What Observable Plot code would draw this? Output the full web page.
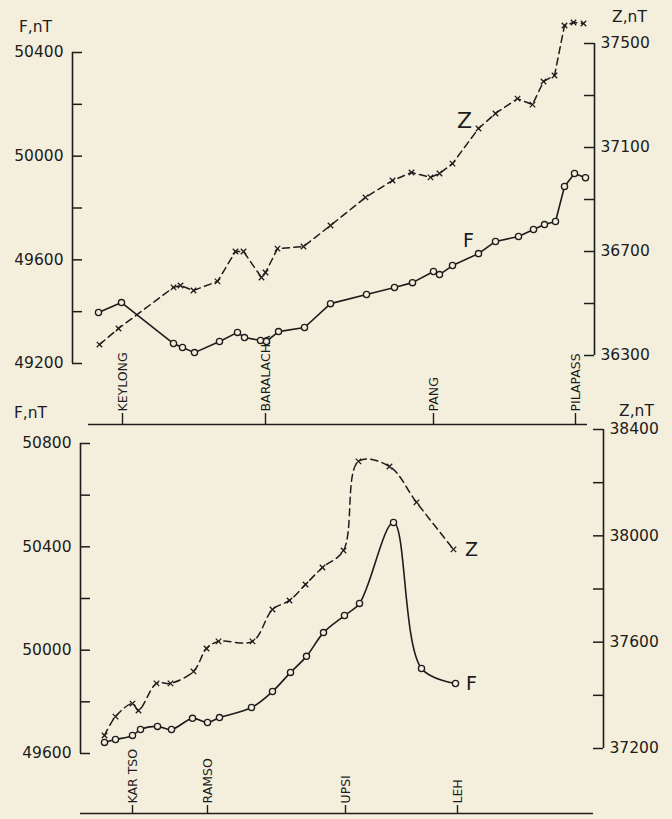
<!DOCTYPE html>
<html><head><meta charset="utf-8">
<script src="https://cdn.jsdelivr.net/npm/d3@7"></script>
<script src="https://cdn.jsdelivr.net/npm/@observablehq/plot@0.6"></script>
<style>
html,body{margin:0;padding:0;background:#f4efdc;}
#wrap{position:relative;width:672px;height:819px;overflow:hidden;}
#wrap svg{position:absolute;left:0;top:0;}
</style></head><body><div id="wrap"></div>
<script>
// ---------- TOP TRAVERSE (Keylong – Pilapass) ----------
const topStations = ["KEYLONG", "BARALACHA", "PANG", "PILAPASS"];
const topStationKm = [50, 193, 361, 503];
const topFKm = [26,49,101,110,122,147,165,172,188,194,206,232,258,294,322,340,361,367,380,406,423,446,461,472,483,492,502,513];
const topF   = [49397,49435,49277,49262,49242,49285,49320,49300,49289,49285,49323,49339,49431,49466,49493,49512,49555,49543,49578,49624,49671,49690,49717,49736,49748,49883,49933,49917];
const topZKm = [27,46,101,108,121,145,163,171,189,193,205,231,258,293,320,339,358,367,380,406,423,445,460,471,482,492,501,511];
const topZ   = [36342,36404,36562,36569,36550,36585,36700,36700,36600,36619,36711,36719,36800,36908,36973,37004,36985,37000,37038,37173,37231,37288,37265,37354,37377,37569,37581,37577];
const topFTicks = [49200,49400,49600,49800,50000,50200,50400];
const topZTicks = [36300,36500,36700,36900,37100,37300,37500];

// ---------- BOTTOM TRAVERSE (Kar Tso – Leh) ----------
const botStations = ["KAR TSO", "RAMSO", "UPSI", "LEH"];
const botStationKm = [52, 127, 265, 377];
const botFKm = [24,35,52,60,77,91,112,127,139,171,192,210,226,243,264,279,313,341,375];
const botF   = [49643,49654,49670,49693,49705,49693,49736,49720,49739,49778,49840,49914,49976,50068,50134,50181,50494,49929,49871];
const botZKm = [24,35,52,58,76,90,113,126,138,172,192,209,225,242,263,278,309,336,373];
const botZ   = [37249,37320,37369,37343,37445,37445,37490,37576,37603,37603,37723,37757,37817,37881,37945,38280,38261,38126,37949];
const botFTicks = [49600,49800,50000,50200,50400,50600,50800];
const botZTicks = [37200,37400,37600,37800,38000,38200,38400];

const W = 672, H = 819;
const ink = "#1c1c1c", paper = "#f4efdc";
const font = "'DejaVu Sans', sans-serif";

function panel(cfg) {
  const s = (cfg.yA - cfg.yB) / (cfg.fB - cfg.fA);
  const yDomain = [cfg.fA - (cfg.base - cfg.yA) / s, cfg.fA + (cfg.yA - cfg.top) / s];
  const zPix = z => cfg.zy0 - (z - cfg.z0) * cfg.zs;
  const zf = z => cfg.fA + (cfg.yA - zPix(z)) / s;
  const fRows = cfg.fKm.map((k, i) => ({km: k, v: cfg.f[i]}));
  const zRows = cfg.zKm.map((k, i) => ({km: k, v: zf(cfg.z[i])}));
  const frameW = W - cfg.ml - cfg.mr;
  const frameH = cfg.base - cfg.top;
  const fMin = cfg.fTicks[0], fMax = cfg.fTicks[cfg.fTicks.length - 1];
  const zMin = cfg.zTicks[0], zMax = cfg.zTicks[cfg.zTicks.length - 1];
  const fLab = cfg.fTicks.filter(d => (d - fMin) % 400 === 0);
  const zLab = cfg.zTicks.filter(d => (d - zMin) % 400 === 0);
  const stations = cfg.stations.map((n, i) => ({name: n, km: cfg.stationKm[i]}));
  return Plot.plot({
    width: W, height: H,
    marginLeft: cfg.ml, marginRight: cfg.mr, marginTop: cfg.top, marginBottom: H - cfg.base,
    x: {domain: cfg.xDomain, axis: null},
    y: {domain: yDomain, axis: null},
    style: {background: "transparent", color: ink, fontFamily: font, overflow: "visible"},
    marks: [
      Plot.ruleY([yDomain[0]], {stroke: ink, strokeWidth: 1.5, insetLeft: cfg.baseInsetL, insetRight: cfg.baseInsetR}),
      Plot.ruleX(stations, {x: "km", stroke: ink, strokeWidth: 1.4, insetTop: frameH - cfg.stTick}),
      Plot.text(stations, {x: "km", text: "name", frameAnchor: "bottom", rotate: -90, textAnchor: "start",
        lineAnchor: "middle", dy: -(cfg.stTick + 2), fontSize: 12.5, fill: ink}),
      Plot.ruleX([cfg.xDomain[0]], {y1: fMin, y2: fMax, stroke: ink, strokeWidth: 1.6}),
      Plot.tickY(cfg.fTicks, {y: d => d, stroke: ink, strokeWidth: 1.5, insetRight: frameW - 10}),
      Plot.text(fLab, {y: d => d, text: d => String(d), frameAnchor: "left", textAnchor: "end", dx: -9, fontSize: 15.5, fill: ink}),
      Plot.ruleX([cfg.xDomain[1]], {y1: zf(zMin), y2: zf(zMax), stroke: ink, strokeWidth: 1.6}),
      Plot.tickY(cfg.zTicks, {y: zf, stroke: ink, strokeWidth: 1.5, insetLeft: frameW - 10}),
      Plot.text(zLab, {y: zf, text: d => String(d), frameAnchor: "right", textAnchor: "start", dx: 6, fontSize: 15.5, fill: ink}),
      Plot.text(["F,nT"], {frameAnchor: "top-left", textAnchor: "middle", lineAnchor: "middle", dx: cfg.fTitle[0], dy: cfg.fTitle[1], fontSize: 15.5, fill: ink}),
      Plot.text(["Z,nT"], {frameAnchor: "top-right", textAnchor: "middle", lineAnchor: "middle", dx: cfg.zTitle[0], dy: cfg.zTitle[1], fontSize: 15.5, fill: ink}),
      Plot.line(zRows, {x: "km", y: "v", curve: cfg.curve, stroke: ink, strokeWidth: 1.5, strokeDasharray: "7,4.5"}),
      Plot.dot(zRows, {x: "km", y: "v", symbol: "times", r: 2.6, stroke: ink, strokeWidth: 1.3}),
      Plot.line(fRows, {x: "km", y: "v", curve: cfg.curve, stroke: ink, strokeWidth: 1.6}),
      Plot.dot(fRows, {x: "km", y: "v", r: 3.1, stroke: ink, strokeWidth: 1.3, fill: paper}),
      Plot.text([zRows[cfg.zLabel.i]], {x: "km", y: "v", text: () => "Z", dx: cfg.zLabel.dx, dy: cfg.zLabel.dy, fontSize: cfg.zLabel.size, fill: ink}),
      Plot.text([fRows[cfg.fLabel.i]], {x: "km", y: "v", text: () => "F", dx: cfg.fLabel.dx, dy: cfg.fLabel.dy, fontSize: cfg.fLabel.size, fill: ink})
    ]
  });
}

const topChart = panel({
  fA: 49200, yA: 363, fB: 50400, yB: 52, top: 15, base: 424,
  z0: 36300, zy0: 355, zs: 312 / 1200,
  ml: 72, mr: 78, xDomain: [0, 522],
  fKm: topFKm, f: topF, zKm: topZKm, z: topZ,
  fTicks: topFTicks, zTicks: topZTicks,
  stations: topStations, stationKm: topStationKm, stTick: 11,
  baseInsetL: 16, baseInsetR: 7,
  fTitle: [-37, 12], zTitle: [35, 2],
  curve: "linear",
  zLabel: {i: 19, dx: -14, dy: -8, size: 22},
  fLabel: {i: 19, dx: -10, dy: -13, size: 19}
});

const botChart = panel({
  fA: 49600, yA: 753, fB: 50800, yB: 443, top: 425, base: 813,
  z0: 37200, zy0: 748, zs: 319 / 1200,
  ml: 80, mr: 69, xDomain: [0, 523],
  fKm: botFKm, f: botF, zKm: botZKm, z: botZ,
  fTicks: botFTicks, zTicks: botZTicks,
  stations: botStations, stationKm: botStationKm, stTick: 8,
  baseInsetL: 0, baseInsetR: 10,
  fTitle: [-50, -12], zTitle: [33, -14],
  curve: "catmull-rom",
  zLabel: {i: botZ.length - 1, dx: 18, dy: 1, size: 19},
  fLabel: {i: botF.length - 1, dx: 16, dy: 0, size: 19}
});

const wrap = document.getElementById("wrap");
wrap.appendChild(topChart);
wrap.appendChild(botChart);
</script>
</body></html>
